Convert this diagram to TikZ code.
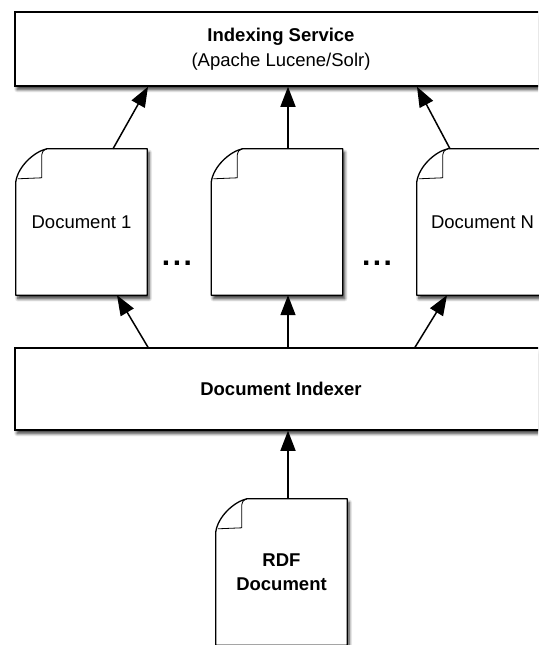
\documentclass[tikz,border=0pt]{standalone}
\usepackage{fontspec}
\setmainfont{Liberation Sans}
\usetikzlibrary{arrows.meta,shadows.blur}
\pgfdeclarelayer{background}
\pgfsetlayers{background,main}
\tikzset{
  shad/.style={blur shadow={shadow xshift=2pt, shadow yshift=-3.5pt, shadow blur radius=3pt, shadow blur steps=8, shadow opacity=80}},
  box/.style={draw, line width=1.5pt, fill=white, minimum width=532pt, inner sep=0pt, shad,
    font=\fontsize{18.5}{25}\selectfont, align=center},
  docnode/.style={minimum width=131pt, minimum height=146pt, inner sep=0pt, align=center,
    font=\fontsize{18.5}{24}\selectfont},
  docline/.style={line width=1.3pt, fill=white, line join=round, shad},
  flap/.style={line width=0.8pt},
  arr/.style={line width=1.5pt, -{Triangle[length=20pt,width=15pt,fill=black]}},
  dots/.style={font=\fontsize{30}{30}\selectfont\bfseries, inner sep=0pt, anchor=base}
}
\newcommand\docoutline[1]{%
  \begin{pgfonlayer}{background}
  \draw[docline] ([xshift=31pt]#1.north west) -- (#1.north east) -- (#1.south east) -- (#1.south west)
     -- ([yshift=-33pt]#1.north west) .. controls ([xshift=2pt,yshift=-18pt]#1.north west) and ([xshift=18pt,yshift=-3pt]#1.north west) .. ([xshift=31pt]#1.north west) -- cycle;
  \draw[flap] ([xshift=31pt]#1.north west) .. controls ([xshift=27pt,yshift=-2pt]#1.north west) .. ([xshift=26pt,yshift=-6pt]#1.north west)
     -- ([xshift=26pt,yshift=-29pt]#1.north west) -- ([xshift=2pt,yshift=-30pt]#1.north west);
  \end{pgfonlayer}}
\begin{document}
\begin{tikzpicture}[x=1pt,y=-1pt]
\useasboundingbox (0,0) rectangle (538,645);
\clip (0,0) rectangle (538,645);
\node[box, minimum height=74pt] (svc) at (281,49) {\textbf{Indexing Service}\\(Apache Lucene/Solr)};
\node[box, minimum height=82pt] (idx) at (281,389) {\textbf{Document Indexer}};
\node[docnode] (d1) at (81.5,222) {Document 1};
\node[docnode] (dm) at (277,222) {};
\node[docnode] (dn) at (482.5,222) {Document N};
\node[docnode] (rdf) at (281.5,572) {\textbf{RDF}\\\textbf{Document}};
\docoutline{d1}
\docoutline{dm}
\docoutline{dn}
\docoutline{rdf}
\node[dots] (e1) at (177,265) {.\hspace{2.5pt}.\hspace{2.5pt}.};
\node[dots] (e2) at (377,265) {.\hspace{2.5pt}.\hspace{2.5pt}.};
\draw[arr] ([xshift=31.5pt]d1.north) -- ([xshift=-133pt]svc.south);
\draw[arr] ([xshift=11pt]dm.north) -- ([xshift=7pt]svc.south);
\draw[arr] ([xshift=-32.5pt]dn.north) -- ([xshift=136pt]svc.south);
\draw[arr] ([xshift=-133pt]idx.north) -- ([xshift=35.5pt]d1.south);
\draw[arr] ([xshift=7pt]idx.north) -- ([xshift=11pt]dm.south);
\draw[arr] ([xshift=134pt]idx.north) -- ([xshift=-35.5pt]dn.south);
\draw[arr] ([xshift=6.5pt]rdf.north) -- ([xshift=7pt]idx.south);
\end{tikzpicture}
\end{document}
